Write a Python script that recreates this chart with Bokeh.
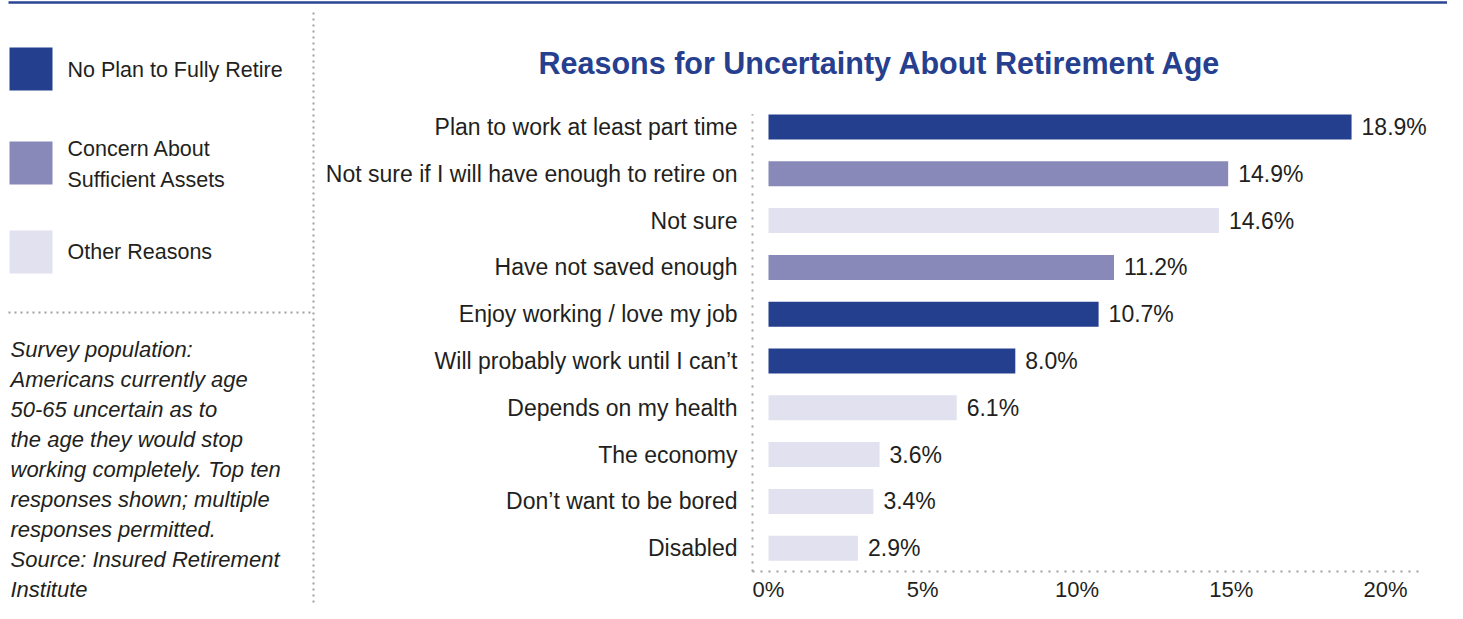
from bokeh.plotting import figure
from bokeh.models import Range1d, ColumnDataSource
from bokeh.embed import file_html
from bokeh.resources import INLINE
from bokeh.core.properties import value

# ---------------- data ----------------
chart_title = "Reasons for Uncertainty About Retirement Age"
reasons = [
    "Plan to work at least part time",
    "Not sure if I will have enough to retire on",
    "Not sure",
    "Have not saved enough",
    "Enjoy working / love my job",
    "Will probably work until I can\u2019t",
    "Depends on my health",
    "The economy",
    "Don\u2019t want to be bored",
    "Disabled",
]
percents = [18.9, 14.9, 14.6, 11.2, 10.7, 8.0, 6.1, 3.6, 3.4, 2.9]
group_names = ["No Plan to Fully Retire", "Concern About Sufficient Assets", "Other Reasons"]
reason_groups = [
    "No Plan to Fully Retire",
    "Concern About Sufficient Assets",
    "Other Reasons",
    "Concern About Sufficient Assets",
    "No Plan to Fully Retire",
    "No Plan to Fully Retire",
    "Other Reasons",
    "Other Reasons",
    "Other Reasons",
    "Other Reasons",
]
group_colors = ["#243f8e", "#8888b9", "#e1e1f0"]
legend_lines = ["No Plan to Fully Retire", "Concern About", "Sufficient Assets", "Other Reasons"]
x_ticks = [0, 5, 10, 15, 20]
tick_labels = ["0%", "5%", "10%", "15%", "20%"]
note_lines = [
    "Survey population:",
    "Americans currently age",
    "50-65 uncertain as to",
    "the age they would stop",
    "working completely. Top ten",
    "responses shown; multiple",
    "responses permitted.",
    "Source: Insured Retirement",
    "Institute",
]

# ---------------- style ----------------
FONT = "Liberation Sans"
TEXT = "#231f20"
DOT = "#a0a0a0"
W, H = 1447, 603
PX_PER_PCT = 30.85          # horizontal scale of the value axis
ZERO_X = 768                # pixel position of 0 %
ROW_PX = 46.8               # pixel height of one category row
LAST_ROW_Y = 547.7          # pixel centre of the bottom row

color_of = dict(zip(group_names, group_colors))
n = len(reasons)
row_pos = [n - 1 - i for i in range(n)]     # top category first

p = figure(
    width=W, height=H,
    x_range=Range1d(-ZERO_X / PX_PER_PCT, (W - ZERO_X) / PX_PER_PCT),
    y_range=Range1d(-(H - LAST_ROW_Y) / ROW_PX, LAST_ROW_Y / ROW_PX),
    toolbar_location=None, output_backend="svg", min_border=0,
    x_axis_location=None, y_axis_location=None, outline_line_color=None,
    background_fill_color="white", border_fill_color="white",
)
p.grid.visible = False
# pixel coordinate system for page furniture (legend, note, rules)
p.extra_x_ranges = {"px": Range1d(0, W)}
p.extra_y_ranges = {"px": Range1d(H, 0)}

# ---------------- bars ----------------
src = ColumnDataSource(dict(
    y=row_pos,
    reason=reasons,
    pct=percents,
    label=["%.1f%%" % v for v in percents],
    color=[color_of[g] for g in reason_groups],
))
p.hbar(y="y", left=0, right="pct", height=0.534, fill_color="color",
       line_color=None, source=src)
p.text(x="pct", y="y", text="label", x_offset=10, text_baseline="middle",
       text_font=value(FONT), text_font_size="23px", text_color=TEXT, source=src)

# category labels
p.text(x=0, y="y", text="reason", x_offset=-31, text_align="right", text_baseline="middle",
       text_font=value(FONT), text_font_size="23px", text_color=TEXT, source=src)

# dotted axis lines
p.segment(x0=[-0.519], y0=[-0.5], x1=[-0.519], y1=[n - 0.73],
          line_color=DOT, line_width=2, line_dash="2 6")
p.segment(x0=[-0.519], y0=[-0.5], x1=[21.07], y1=[-0.5],
          line_color=DOT, line_width=2, line_dash="2 6")

# value tick labels
p.text(x=x_ticks, y=[-0.882] * len(x_ticks), text=tick_labels, text_align="center",
       text_baseline="middle", text_font=value(FONT), text_font_size="22px", text_color=TEXT)

# ---------------- title & top rule ----------------
p.text(x=[879.5], y=[62], text=[chart_title], text_align="center", text_baseline="middle",
       text_font=value(FONT), text_font_size="30.5px", text_font_style="bold",
       text_color="#26408f", x_range_name="px", y_range_name="px")
p.segment(x0=[8], y0=[2], x1=[1447], y1=[2], line_color="#2b4595", line_width=2.5,
          x_range_name="px", y_range_name="px")

# ---------------- legend panel ----------------
p.rect(x=30.5, y=[68.5, 162.5, 251.5], width=43, height=43,
       fill_color=group_colors, line_color=None, x_range_name="px", y_range_name="px")
p.text(x=67, y=[69, 148, 179, 251], text=legend_lines, text_baseline="middle",
       text_font=value(FONT), text_font_size="21.5px", text_color=TEXT,
       x_range_name="px", y_range_name="px")
p.segment(x0=[8], y0=[312], x1=[312], y1=[312], line_color=DOT, line_width=2,
          line_dash="2 4", x_range_name="px", y_range_name="px")
p.segment(x0=[313], y0=[12], x1=[313], y1=[603], line_color=DOT, line_width=2,
          line_dash="2 4", x_range_name="px", y_range_name="px")
p.text(x=10, y=[349 + i * 30 for i in range(len(note_lines))], text=note_lines,
       text_baseline="middle", text_font=value(FONT), text_font_size="22px",
       text_font_style="italic", text_color=TEXT, x_range_name="px", y_range_name="px")

open("out.html", "w").write(file_html(p, INLINE))
